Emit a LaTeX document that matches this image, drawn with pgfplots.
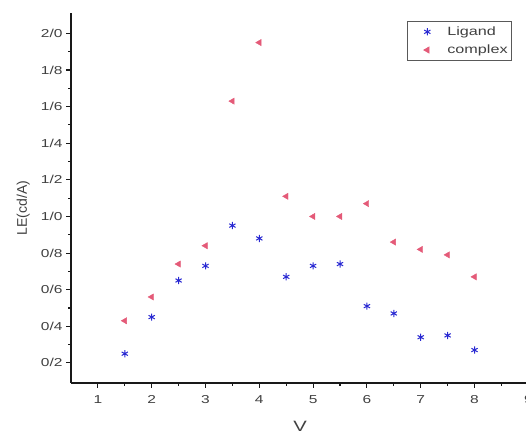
\documentclass[border=0pt]{standalone}
\usepackage{pgfplots}
\pgfplotsset{compat=1.18}
\usepackage{fontspec}
\setmainfont{Liberation Sans}
\newfontfamily\widesans[FakeStretch=1.35]{Liberation Sans}

\definecolor{ligblue}{RGB}{40,40,210}
\definecolor{cpxpink}{RGB}{228,90,120}

\begin{document}
\begin{tikzpicture}[x=1pt,y=1pt]
\begin{axis}[
  at={(71pt,52pt)}, anchor=south west,
  scale only axis, width=462.7pt, height=369.7pt,
  xmin=0.5, xmax=9.1, ymin=0.09, ymax=2.11,
  axis x line=bottom, axis y line=left,
  axis line style={-, line width=1.3pt, black!90},
  tick align=outside,
  major tick length=5pt, minor tick length=3pt,
  every tick/.style={black!90, line width=1.1pt},
  xtick={1,2,3,4,5,6,7,8,9},
  minor x tick num=1,
  ytick={0.2,0.4,0.6,0.8,1.0,1.2,1.4,1.6,1.8,2.0},
  yticklabels={0/2,0/4,0/6,0/8,1/0,1/2,1/4,1/6,1/8,2/0},
  minor y tick num=1,
  /pgf/number format/assume math mode=true,
  tick label style={font=\widesans\fontsize{11.5}{11.5}\selectfont, text=black!75},
  xticklabel style={yshift=-4pt},
  xlabel={V},
  xlabel style={at={(axis description cs:0.495,-0.117)}, anchor=center,
    font=\widesans\fontsize{15}{15}\selectfont, text=black!75},
  ylabel={LE(cd/A)},
  ylabel style={at={(axis description cs:-0.103,0.473)}, anchor=center,
    font=\fontsize{14}{14}\selectfont, text=black!75},
  legend style={at={(0.953,0.978)}, anchor=north east, draw=black!65,
    line width=0.6pt, inner xsep=2pt, inner ysep=3pt, row sep=4pt,
    font=\widesans\fontsize{12}{14}\selectfont, text=black!75},
  legend cell align=left,
  legend image code/.code={%
    \node[anchor=center, draw=none, fill=none, inner sep=0pt,
      minimum width=36pt, minimum height=4pt] at (0pt,0pt) {};
    \draw plot coordinates {(0pt,0pt)};},
]
% LE of the free ligand
\addplot[only marks, mark=asterisk, color=ligblue, mark size=3.6pt, line width=1pt] table {
x y
1.5 0.25
2.0 0.45
2.5 0.65
3.0 0.73
3.5 0.95
4.0 0.88
4.5 0.67
5.0 0.73
5.5 0.74
6.0 0.51
6.5 0.47
7.0 0.34
7.5 0.35
8.0 0.27
};
\addlegendentry{Ligand}
% LE of the metal complex
\addplot[only marks, mark=triangle*, color=cpxpink, mark size=3.6pt,
  mark options={rotate=90, fill=cpxpink, draw=cpxpink}] table {
x y
1.5 0.43
2.0 0.56
2.5 0.74
3.0 0.84
3.5 1.63
4.0 1.95
4.5 1.11
5.0 1.00
5.5 1.00
6.0 1.07
6.5 0.86
7.0 0.82
7.5 0.79
8.0 0.67
};
\addlegendentry{complex}
\end{axis}
\pgfresetboundingbox
\path[use as bounding box] (0,0) rectangle (526,435);
\end{tikzpicture}
\end{document}
